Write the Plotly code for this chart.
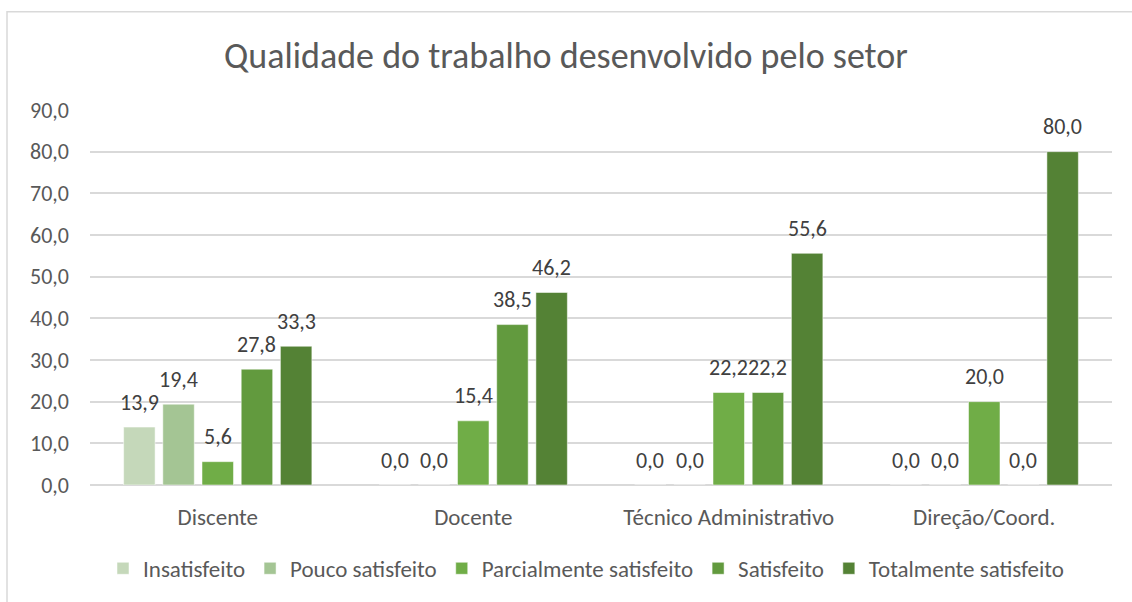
import plotly.graph_objects as go

categories = ["Discente", "Docente", "Técnico Administrativo", "Direção/Coord."]
series_names = ["Insatisfeito", "Pouco satisfeito", "Parcialmente satisfeito", "Satisfeito", "Totalmente satisfeito"]
insatisfeito = [13.9, 0.0, 0.0, 0.0]
pouco_satisfeito = [19.4, 0.0, 0.0, 0.0]
parcialmente_satisfeito = [5.6, 15.4, 22.2, 20.0]
satisfeito = [27.8, 38.5, 22.2, 0.0]
totalmente_satisfeito = [33.3, 46.2, 55.6, 80.0]
y_ticks = [0, 10, 20, 30, 40, 50, 60, 70, 80, 90]

series_values = [insatisfeito, pouco_satisfeito, parcialmente_satisfeito, satisfeito, totalmente_satisfeito]
colors = ["#C5D8BA", "#A4C594", "#70AD47", "#629A3E", "#548235"]

FONT = "Carlito, Lato, 'Open Sans', sans-serif"
TEXT = "#595959"

W, H = 1132, 602
ML, MR, MT, MB = 90, 20, 110, 114
pw, ph = W - ML - MR, H - MT - MB
BARGAP, GROUPGAP = 0.233, 0.197

fig = go.Figure()
annotations = []
n = len(series_names)
slot = pw / len(categories) * (1 - BARGAP) / n
for i, (name, vals, col) in enumerate(zip(series_names, series_values, colors)):
    fig.add_trace(go.Bar(
        name=name, x=categories, y=vals,
        marker=dict(color=col, line=dict(color="rgba(255,255,255,0.5)", width=1)),
    ))
    # value labels sit a fixed distance above each bar
    for cat, v in zip(categories, vals):
        annotations.append(dict(
            x=cat, y=v, xref="x", yref="y",
            text=f"{v:.1f}".replace(".", ","), showarrow=False,
            xshift=(i - (n - 1) / 2) * slot, yshift=25,
            xanchor="center", yanchor="middle",
            font=dict(family=FONT, size=22, color="#404040"),
        ))

def px_x(p):
    return (p - ML) / pw

def px_y(p):
    return (H - MB - p) / ph

fig.update_layout(
    width=W, height=H,
    margin=dict(l=ML, r=MR, t=MT, b=MB),
    paper_bgcolor="white", plot_bgcolor="white",
    separators=",.",
    barmode="group", bargap=BARGAP, bargroupgap=GROUPGAP,
    font=dict(family=FONT, color=TEXT),
    title=dict(text="Qualidade do trabalho desenvolvido pelo setor",
               x=0.5, xanchor="center", y=1 - 55 / H, yanchor="middle",
               font=dict(family=FONT, size=36, color=TEXT)),
    xaxis=dict(showgrid=False, showline=False, ticks="", ticklabelstandoff=16,
               tickfont=dict(family=FONT, size=23, color=TEXT)),
    yaxis=dict(range=[0, 90], tickvals=y_ticks, tickformat=".1f",
               showgrid=True, gridcolor="#D9D9D9", gridwidth=1.5,
               zeroline=True, zerolinecolor="#D9D9D9", zerolinewidth=1.5,
               showline=False, ticks="", ticklabelstandoff=20,
               tickfont=dict(family=FONT, size=22, color=TEXT)),
    legend=dict(orientation="h", x=px_x(586), xanchor="center",
                y=px_y(572), yanchor="middle",
                font=dict(family=FONT, size=23, color=TEXT),
                itemwidth=30, traceorder="normal"),
    annotations=annotations,
    shapes=[dict(type="rect", xref="paper", yref="paper",
                 x0=px_x(7), x1=px_x(1140), y0=px_y(615), y1=px_y(11),
                 line=dict(color="#D9D9D9", width=1.5), layer="below")],
)

fig.write_html("out.html")
